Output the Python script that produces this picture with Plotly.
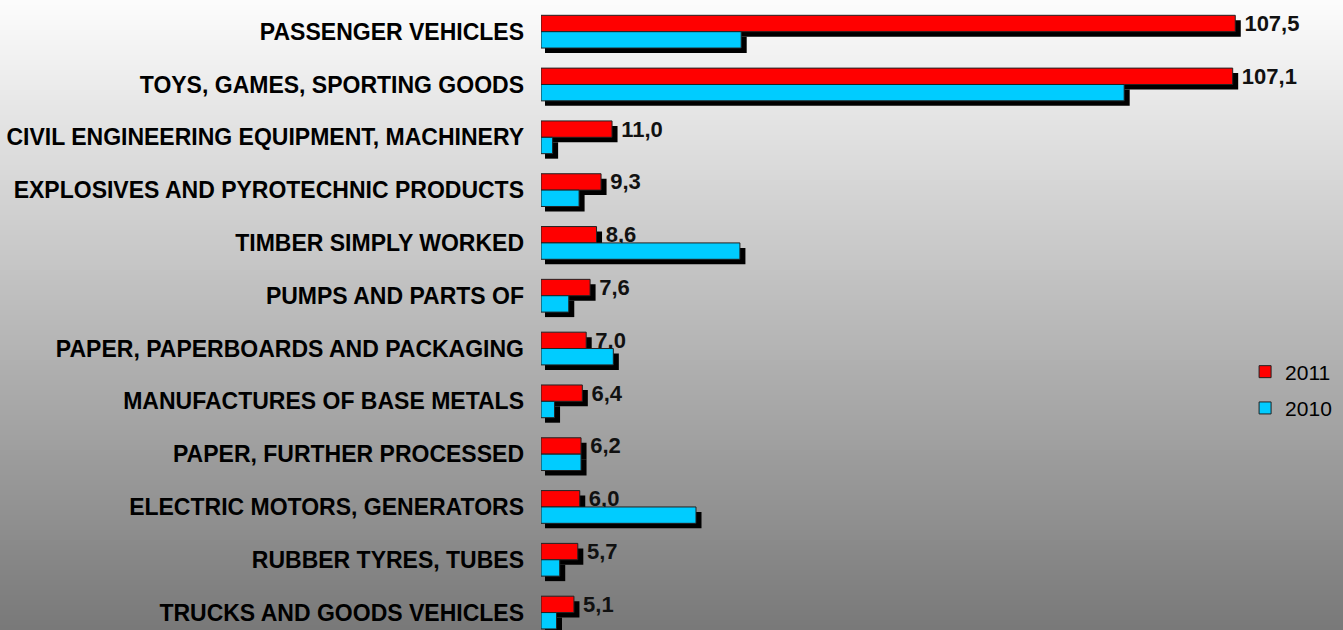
import plotly.graph_objects as go

categories = [
    "PASSENGER VEHICLES",
    "TOYS, GAMES, SPORTING GOODS",
    "CIVIL ENGINEERING EQUIPMENT, MACHINERY",
    "EXPLOSIVES AND PYROTECHNIC PRODUCTS",
    "TIMBER SIMPLY WORKED",
    "PUMPS AND PARTS OF",
    "PAPER, PAPERBOARDS AND PACKAGING",
    "MANUFACTURES OF BASE METALS",
    "PAPER, FURTHER PROCESSED",
    "ELECTRIC MOTORS, GENERATORS",
    "RUBBER TYRES, TUBES",
    "TRUCKS AND GOODS VEHICLES",
]
values_2011 = [107.5, 107.1, 11.0, 9.3, 8.6, 7.6, 7.0, 6.4, 6.2, 6.0, 5.7, 5.1]
values_2010 = [31.0, 90.3, 1.8, 5.9, 30.8, 4.3, 11.2, 2.1, 6.2, 24.0, 2.9, 2.4]

RED = "#FF0000"
BLUE = "#00CCFF"
FONT = "Liberation Sans, Arial, sans-serif"

W, H = 1343, 630
ML, MR = 541, 27
XMAX = 120.0
px_per_unit = (W - ML - MR) / XMAX
n = len(categories)
y_lo, y_hi = -0.6, n - 1 + 0.33
px_per_cat = H / (y_hi - y_lo)

bar_w = 0.31
sh_dx0 = 4 / px_per_unit      # shadow left shift
sh_extra = 1.5 / px_per_unit  # shadow extra length
sh_dy = 5 / px_per_cat        # shadow down shift

fig = go.Figure()

# shadows
for vals, off in ((values_2011, -bar_w), (values_2010, 0.0)):
    fig.add_trace(go.Bar(
        y=categories, x=[v + sh_extra for v in vals], base=[sh_dx0] * n,
        orientation="h", width=bar_w, offset=off + sh_dy,
        marker=dict(color="black", line=dict(width=0)),
        showlegend=False, hoverinfo="skip",
    ))

fig.add_trace(go.Bar(
    y=categories, x=values_2011, name="2011", orientation="h",
    width=bar_w, offset=-bar_w,
    marker=dict(color=RED, line=dict(color="#222222", width=1)),
    text=["\u00a0" + f"{v:.1f}".replace(".", ",") for v in values_2011],
    textposition="outside", constraintext="none", cliponaxis=False,
    textfont=dict(family=FONT, size=22, color="#111111", weight="bold"),
    legendgroup="a",
))
fig.add_trace(go.Bar(
    y=categories, x=values_2010, name="2010", orientation="h",
    width=bar_w, offset=0.0,
    marker=dict(color=BLUE, line=dict(color="#222222", width=1)),
    legendgroup="b",
))

# vertical gradient background
N = 126
shapes = []
top, bot = 253, 120
for i in range(N):
    c = round(top + (bot - top) * (i + 0.5) / N)
    shapes.append(dict(
        type="rect", xref="paper", yref="paper", layer="below",
        x0=-0.8, x1=1.1, y0=1 - i / N, y1=1 - (i + 1) / N - 0.002,
        fillcolor=f"rgb({c},{c},{c})", line=dict(width=0),
    ))

fig.update_layout(
    width=W, height=H,
    margin=dict(l=ML, r=MR, t=0, b=0, pad=0),
    barmode="overlay",
    paper_bgcolor="white", plot_bgcolor="rgba(0,0,0,0)",
    shapes=shapes,
    font=dict(family=FONT, color="black"),
    xaxis=dict(visible=False, range=[0, XMAX], fixedrange=True),
    yaxis=dict(
        type="category", categoryorder="array", categoryarray=categories,
        range=[y_hi, y_lo], showgrid=False, zeroline=False, showline=False,
        ticks="", ticklabelstandoff=16, fixedrange=True,
        tickfont=dict(family=FONT, size=23, color="black", weight="bold"),
    ),
    legend=dict(
        x=0.9085, xanchor="left", y=1 - 390 / H, yanchor="middle",
        font=dict(family=FONT, size=21, color="black"),
        bgcolor="rgba(0,0,0,0)", traceorder="grouped", tracegroupgap=6,
    ),
    showlegend=True,
)

fig.write_html(
    "out.html",
    config={"displayModeBar": False},
    post_script="document.body.style.margin='0';document.body.style.overflow='hidden';",
)
